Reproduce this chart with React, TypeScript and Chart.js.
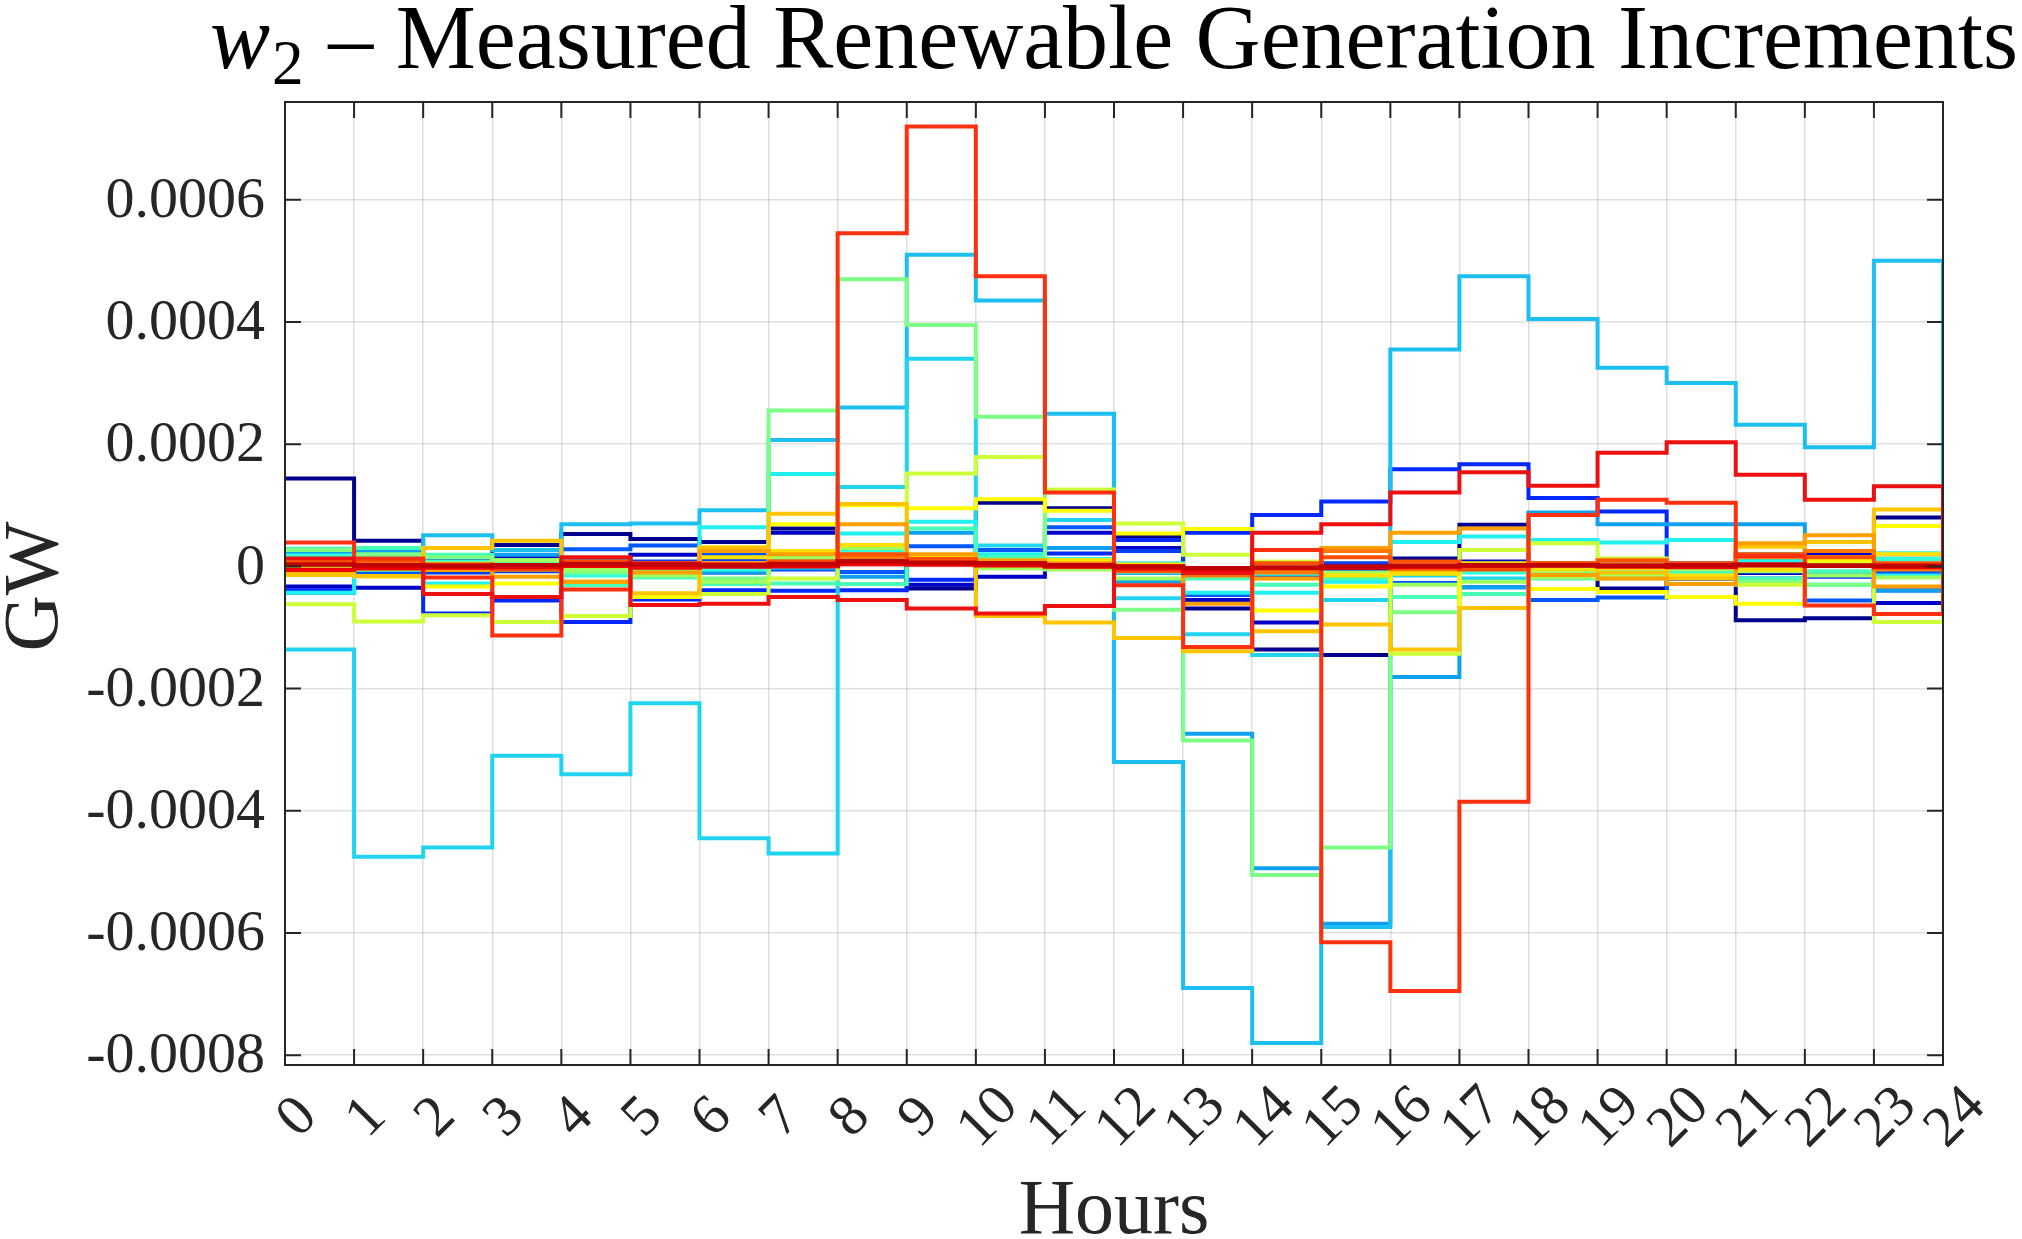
import React, { useEffect, useRef } from 'react';
import { Chart, registerables } from 'chart.js';

Chart.register(...registerables);

// ---------- data (values in units of 1e-5 GW, hours 0..24, stairs) ----------
const UNIT = 1e-5;
const HOURS = [0, 1, 2, 3, 4, 5, 6, 7, 8, 9, 10, 11, 12, 13, 14, 15, 16, 17, 18, 19, 20, 21, 22, 23, 24];
const X_TICK_LABELS = ['0', '1', '2', '3', '4', '5', '6', '7', '8', '9', '10', '11', '12', '13', '14', '15', '16', '17', '18', '19', '20', '21', '22', '23', '24'];
const Y_TICKS = [-0.0008, -0.0006, -0.0004, -0.0002, 0, 0.0002, 0.0004, 0.0006];
const Y_TICK_LABELS = ['-0.0008', '-0.0006', '-0.0004', '-0.0002', '0', '0.0002', '0.0004', '0.0006'];
const Y_MIN = -0.000816;
const Y_MAX = 0.00076;

const TITLE_VAR = 'w';
const TITLE_SUB = '2';
const TITLE_REST = ' \u2013 Measured Renewable Generation Increments';
const X_TITLE = 'Hours';
const Y_TITLE = 'GW';

const s01 = [14.4, 4.2, 1.3, 3.5, 5.3, 4.5, 4.0, 6.2, 3.1, -3.6, 10.4, 9.5, 4.9, -6.9, -13.6, -14.5, 1.3, 6.8, -0.5, -3.6, -2.0, -8.8, -8.5, 8.0, 0];
const s02 = [-3.3, -3.5, 1.0, 1.5, 1.0, 1.9, -1.0, 5.5, 2.0, -3.0, -1.7, 5.5, 3.0, -5.5, -9.2, -0.5, -0.8, 0.8, 0.5, -1.5, -0.5, -1.1, 2.1, -6.0, 0];
const s03 = [-3.9, 0.5, -7.7, -5.6, -9.1, -5.4, -3.9, -4.0, -3.9, -2.2, 0.5, 2.1, 4.3, 5.5, 8.4, 10.6, 15.9, 16.7, 11.2, 9.0, -2.0, 1.0, -1.7, -3.9, 0];
const s04 = [-4.3, -1.0, -0.5, -5.0, 2.8, 3.4, 1.9, 2.0, -0.9, 3.3, 2.7, 6.4, -1.1, -4.7, -1.0, -1.0, -2.7, -3.4, -5.5, -5.1, -1.0, -2.0, -5.6, -0.9, 0];
const s05 = [-0.5, -0.3, -1.0, -0.8, 0.3, 0.8, 1.2, -0.5, 1.0, 0.5, 0.3, 1.0, 2.5, -0.3, -1.5, 0.5, -0.3, 0.5, -0.5, 0.3, 0.5, -0.5, 1.0, 2.0, 0];
const s06 = [2.1, 2.4, 0.5, 1.9, 1.0, -0.5, -1.0, -0.3, -1.7, 5.5, 1.0, 3.0, -2.5, -27.4, -49.4, -58.5, -18.1, -3.4, 8.8, 6.9, 6.9, 6.9, -1.0, -4.0, 0];
const s07 = [1.6, 1.0, 5.1, 2.7, 6.9, 7.0, 9.2, 20.7, 26.0, 51.0, 43.5, 25.0, -32.0, -69.0, -78.0, -59.0, 35.5, 47.5, 40.5, 32.5, 30.0, 23.2, 19.5, 50.0, 0];
const s08 = [-13.6, -47.5, -46.0, -31.0, -34.0, -22.4, -44.5, -47.0, 13.0, 34.0, 3.4, 7.6, -5.2, -11.1, -14.5, -5.5, -1.5, -2.0, -1.0, -0.5, -1.0, 2.0, 1.0, 2.1, 0];
const s09 = [-4.3, -0.5, -2.8, 0.5, -1.0, -1.0, 6.4, 15.1, 5.4, 7.3, 2.0, 1.0, 0.5, -4.3, -4.3, -2.5, 4.0, 4.9, 4.3, 3.9, 4.3, 1.0, -3.0, -1.5, 0];
const s10 = [1.8, 1.5, 0.8, 0.5, -1.5, -1.0, -0.5, 1.0, 2.5, 1.5, 0.8, 1.2, -1.0, -0.8, -1.2, -1.5, -0.8, -1.0, -1.5, -0.8, -1.2, -0.5, 0.3, 1.2, 0];
const s11 = [2.9, 3.0, 1.9, 1.0, -3.1, -1.8, -2.9, -2.8, -2.9, 6.2, 1.5, 0.5, -0.5, -2.0, -3.0, -2.0, -5.0, -4.5, -2.0, -1.0, -1.5, -2.0, -0.8, 2.1, 0];
const s12 = [2.7, 2.0, 1.5, 1.0, -1.0, -0.5, -2.0, 25.5, 47.0, 39.5, 24.5, 1.0, -7.1, -28.5, -50.5, -46.0, -7.5, -0.5, -1.0, -2.0, -1.5, -2.5, -3.0, 0.5, 0];
const s13 = [-0.3, -0.5, 0.5, 1.0, -0.5, -1.5, -2.5, 1.5, 3.0, 1.0, -0.3, -0.5, -2.0, -1.2, -0.5, -1.0, -3.0, -2.5, -1.8, -1.5, -0.5, -0.8, -1.5, -1.8, 0];
const s14 = [-6.2, -9.0, -8.0, -9.1, -8.1, -4.5, -4.5, -2.0, 10.2, 15.2, 17.9, 12.6, 7.0, 1.9, 0.8, -1.4, -14.3, 2.7, 3.8, 1.3, 0.0, -3.0, 0.5, -9.1, 0];
const s15 = [-0.9, -1.6, -3.3, -2.8, 0.5, -5.0, 3.1, 6.9, 10.0, 9.5, 11.0, 9.1, 5.4, 6.1, -7.2, -3.3, -1.0, -6.8, -3.7, -4.2, -5.0, -6.1, 1.0, 6.6, 0];
const s16 = [-0.5, 0.3, 0.0, -0.5, 0.5, 0.3, 1.5, 2.5, 3.5, 1.5, 0.5, 1.0, 0.3, -0.3, -0.8, -1.5, -1.2, 0.5, -0.5, -0.3, -1.5, -0.5, 1.5, 2.0, 0];
const s17 = [-1.4, -1.6, 3.0, 4.2, -2.5, -4.4, 3.1, 8.6, 10.2, 1.0, -8.1, -9.2, -11.7, -13.9, -10.6, -9.5, -13.6, -6.8, -1.4, -1.0, -2.0, 3.2, 4.0, 9.3, 0];
const s18 = [1.0, 0.8, -0.6, -1.7, -2.5, -1.0, 2.5, 2.0, 6.9, 2.0, 1.0, 0.5, 0.0, -6.1, -2.0, 3.0, 5.5, 6.2, -1.4, -2.0, -2.9, 3.8, 5.1, -3.3, 0];
const s19 = [0.8, 0.5, 0.3, 0.2, 0.5, 0.2, 0.5, 0.8, 1.5, 1.0, 0.5, 0.3, -0.5, -1.5, -1.0, 2.5, -0.5, 0.2, 0.5, 0.3, 0.2, 1.5, 2.5, -0.5, 0];
const s20 = [0.5, 1.0, 0.3, -0.5, 0.8, 0.5, 0.3, 0.8, 2.0, 1.2, 0.3, 0.0, -0.8, -1.0, 0.5, 1.5, 0.8, -0.5, 0.5, 1.0, 0.5, 2.0, 1.5, 0.5, 0];
const s21 = [3.9, 1.3, -1.8, -11.3, -3.8, 0.5, 0.3, 0.0, 54.5, 72.0, 47.5, 12.1, -3.1, -13.2, 2.7, -61.5, -69.5, -38.5, 8.4, 10.9, 10.4, 1.7, -6.4, -7.8, 0];
const s22 = [1.3, 0.0, -4.5, -5.0, 1.5, -6.3, -6.1, -5.0, -5.5, -6.9, -7.7, -6.5, 0.0, -1.1, 5.5, 6.9, 12.1, 15.4, 13.2, 18.6, 20.3, 15.0, 10.9, 13.1, 0];
const s23 = [-0.6, -0.3, -0.2, -0.1, 0.1, -0.2, 0.0, 0.1, 0.4, 0.3, 0.2, 0.0, -0.3, -0.5, -0.3, -0.2, -0.1, 0.1, 0.2, 0.0, -0.1, 0.2, 0.1, -0.1, 0];
const s24 = [0.3, 0.2, 0.1, 0.2, 0.4, 0.3, 0.2, 0.4, 0.8, 0.6, 0.5, 0.2, 0.0, -0.3, -0.2, 0.0, 0.1, 0.2, 0.2, 0.1, 0.2, 0.3, 0.1, 0.1, 0];

const SERIES = [s01, s02, s03, s04, s05, s06, s07, s08, s09, s10, s11, s12, s13, s14, s15, s16, s17, s18, s19, s20, s21, s22, s23, s24];
const COLORS = [
  '#00008f', '#0000c8', '#0028ff', '#0058ff', '#0040f0', '#10a0f0', '#1cc0f0', '#20d4f0',
  '#20f0f0', '#30ffd8', '#48ffb8', '#7cff84', '#a0ff60', '#ccff38', '#ffff00', '#ffe000',
  '#ffc400', '#ffa000', '#ff7800', '#ff5000', '#ff3010', '#ee1010', '#f00000', '#c00000',
];
const WIDTHS = [4, 4, 4, 4, 4, 4, 4, 4, 4, 4, 4, 4, 4, 4, 4, 4, 4, 4, 4, 4, 4, 4, 4.5, 4.5];

// ---------- layout ----------
const W = 2022;
const H = 1239;
const PLOT = { left: 285, right: 1943, top: 102, bottom: 1065 };
const FONT = '"Liberation Serif", "Times New Roman", serif';
const TEXT_COLOR = '#262626';

const decorPlugin = {
  id: 'decor',
  afterDraw(chart: any) {
    const { ctx, chartArea: a, scales } = chart;
    const xs = scales.x;
    const ys = scales.y;
    ctx.save();
    // axes box
    ctx.strokeStyle = TEXT_COLOR;
    ctx.lineWidth = 2;
    ctx.strokeRect(a.left, a.top, a.right - a.left, a.bottom - a.top);
    // inward tick marks
    const TL = 16;
    ctx.beginPath();
    HOURS.forEach((h) => {
      const px = xs.getPixelForValue(h);
      ctx.moveTo(px, a.bottom);
      ctx.lineTo(px, a.bottom - TL);
      ctx.moveTo(px, a.top);
      ctx.lineTo(px, a.top + TL);
    });
    Y_TICKS.forEach((v) => {
      const py = ys.getPixelForValue(v);
      ctx.moveTo(a.left, py);
      ctx.lineTo(a.left + TL, py);
      ctx.moveTo(a.right, py);
      ctx.lineTo(a.right - TL, py);
    });
    ctx.stroke();

    // y tick labels
    ctx.fillStyle = TEXT_COLOR;
    ctx.font = `58px ${FONT}`;
    ctx.textAlign = 'right';
    ctx.textBaseline = 'middle';
    Y_TICKS.forEach((v, i) => {
      const py = ys.getPixelForValue(v);
      ctx.fillText(Y_TICK_LABELS[i], a.left - 20, py + 2);
    });

    // x tick labels, rotated 45 degrees
    ctx.textAlign = 'center';
    ctx.textBaseline = 'middle';
    HOURS.forEach((h, i) => {
      const px = xs.getPixelForValue(h);
      ctx.save();
      ctx.translate(px + 13, a.bottom + 53);
      ctx.rotate(-Math.PI / 4);
      ctx.fillText(X_TICK_LABELS[i], 0, 0);
      ctx.restore();
    });

    // axis titles
    ctx.font = `78px ${FONT}`;
    ctx.textAlign = 'center';
    ctx.textBaseline = 'alphabetic';
    ctx.fillText(X_TITLE, (a.left + a.right) / 2, 1233);
    ctx.save();
    ctx.translate(57, (a.top + a.bottom) / 2 + 3);
    ctx.rotate(-Math.PI / 2);
    ctx.fillText(Y_TITLE, 0, 0);
    ctx.restore();

    // title with subscript
    ctx.fillStyle = '#000000';
    const fIt = `italic 91px ${FONT}`;
    const fSub = `64px ${FONT}`;
    const fMain = `91px ${FONT}`;
    ctx.font = fIt;
    const wVar = ctx.measureText(TITLE_VAR).width;
    ctx.font = fSub;
    const wSub = ctx.measureText(TITLE_SUB).width;
    ctx.font = fMain;
    const wRest = ctx.measureText(TITLE_REST).width;
    const total = wVar + wSub + wRest + 4;
    const target = 1808;
    const sx = target / total;
    const cx = (a.left + a.right) / 2;
    ctx.textAlign = 'left';
    ctx.translate(cx - target / 2, 68);
    ctx.scale(sx, 1);
    ctx.font = fIt;
    ctx.fillText(TITLE_VAR, 0, 0);
    ctx.font = fSub;
    ctx.fillText(TITLE_SUB, wVar + 2, 16);
    ctx.font = fMain;
    ctx.fillText(TITLE_REST, wVar + wSub + 4, 0);
    ctx.restore();
  },
};

export default function App() {
  const canvasRef = useRef<HTMLCanvasElement | null>(null);

  useEffect(() => {
    document.body.style.margin = '0';
    const canvas = canvasRef.current;
    if (!canvas) return;
    const n = SERIES.length;
    const datasets = SERIES.map((vals, i) => ({
      label: `s${i + 1}`,
      data: HOURS.map((h, j) => ({ x: h, y: vals[j] * UNIT })),
      borderColor: COLORS[i],
      backgroundColor: COLORS[i],
      borderWidth: WIDTHS[i],
      pointRadius: 0,
      fill: false,
      stepped: true as const,
      tension: 0,
      // later series (red end of the colormap) are drawn on top
      order: n - i,
    }));
    const chart = new Chart(canvas, {
      type: 'line',
      data: { datasets },
      options: {
        animation: false,
        responsive: false,
        devicePixelRatio: 1,
        layout: {
          padding: {
            left: PLOT.left,
            right: W - PLOT.right,
            top: PLOT.top,
            bottom: H - PLOT.bottom,
          },
        },
        plugins: {
          legend: { display: false },
          tooltip: { enabled: false },
          title: { display: false },
        },
        scales: {
          x: {
            type: 'linear',
            min: 0,
            max: 24,
            afterBuildTicks: (s: any) => {
              s.ticks = HOURS.map((v) => ({ value: v }));
            },
            afterFit: (s: any) => {
              s.height = 0;
            },
            ticks: { display: false },
            border: { display: false },
            grid: { color: 'rgba(38,38,38,0.15)', lineWidth: 1.5, drawTicks: false },
          },
          y: {
            type: 'linear',
            min: Y_MIN,
            max: Y_MAX,
            afterBuildTicks: (s: any) => {
              s.ticks = Y_TICKS.map((v) => ({ value: v }));
            },
            afterFit: (s: any) => {
              s.width = 0;
            },
            ticks: { display: false },
            border: { display: false },
            grid: { color: 'rgba(38,38,38,0.15)', lineWidth: 1.5, drawTicks: false },
          },
        },
      },
      plugins: [decorPlugin],
    });
    return () => chart.destroy();
  }, []);

  return (
    <div style={{ position: 'absolute', left: 0, top: 0, width: W, height: H, background: '#ffffff' }}>
      <canvas ref={canvasRef} width={W} height={H} style={{ width: W, height: H, display: 'block' }} />
    </div>
  );
}
